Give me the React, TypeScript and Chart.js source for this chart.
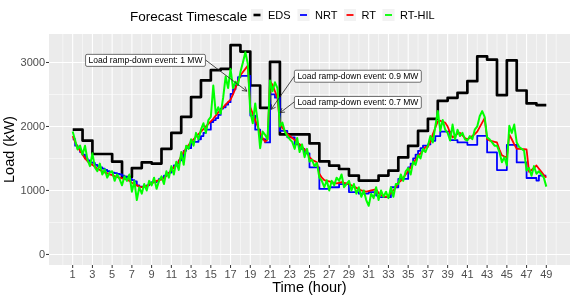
import React, { useEffect, useRef } from "react";
import { Chart, registerables } from "chart.js";

Chart.register(...registerables);

const FONT = "'Liberation Sans', Arial, Helvetica, sans-serif";

// EDS: hourly values, hour 1..49
const edsStart = 1;
const edsStep = 1;
const edsLoad = [
  1950, 1780, 1570, 1570, 1450, 1210, 1350, 1440, 1420, 1650,
  1900, 2150, 2460, 2720, 2880, 2900, 3270, 3170, 2640, 2290,
  3010, 1875, 1875, 1875, 1735, 1455, 1387, 1335, 1232, 1154,
  1154, 1232, 1309, 1516, 1697, 1930, 2120, 2400, 2448, 2526,
  2707, 3095, 3043, 2489, 3033, 2562, 2360, 2334, 2334,
];

// quarter-hour series, hour 1..49
const qStart = 1;
const qStep = 0.25;
const nrtLoad = [
  1800, 1700, 1650, 1600, 1560, 1500, 1470, 1440, 1430, 1400, 1380, 1360,
  1340, 1320, 1300, 1290, 1280, 1270, 1260, 1250, 1230, 1210, 1200, 1180,
  1160, 1140, 1080, 1060, 1060, 1070, 1080, 1100, 1130, 1130, 1150, 1180,
  1200, 1230, 1260, 1280, 1350, 1390, 1420, 1470, 1520, 1620, 1660, 1660,
  1760, 1760, 1760, 1800, 1850, 1900, 1950, 1950, 2070, 2100, 2130, 2180,
  2280, 2300, 2340, 2380, 2510, 2580, 2645, 2770, 2790, 2790, 2790, 2790,
  2170, 2170, 1950, 1950, 1800, 1800, 1750, 1750, 2500, 2500, 2450, 2450,
  1930, 1930, 1930, 1830, 1830, 1830, 1720, 1720, 1650, 1650, 1580, 1580,
  1360, 1360, 1360, 1360, 1024, 1024, 1024, 1024, 1050, 1050, 1050, 1050,
  1100, 1100, 1100, 1100, 975, 975, 975, 975, 950, 950, 950, 950,
  975, 975, 975, 920, 895, 895, 895, 895, 895, 1050, 1050, 1050,
  1180, 1180, 1180, 1180, 1360, 1420, 1500, 1560, 1620, 1660, 1700, 1700,
  1720, 1775, 1775, 1850, 1850, 1920, 1920, 1920, 1920, 1785, 1785, 1785,
  1750, 1750, 1750, 1750, 1713, 1713, 1713, 1713, 1853, 1853, 1853, 1853,
  1594, 1594, 1594, 1594, 1319, 1319, 1319, 1319, 1713, 1713, 1713, 1713,
  1438, 1438, 1438, 1438, 1195, 1195, 1195, 1195, 1154, 1231, 1231, 1231,
  1231,
];
const rtLoad = [
  1850, 1760, 1680, 1620, 1560, 1500, 1460, 1420, 1400, 1370, 1340, 1320,
  1300, 1280, 1270, 1250, 1240, 1225, 1210, 1200, 1190, 1180, 1170, 1150,
  1120, 1100, 1080, 1060, 1050, 1060, 1070, 1090, 1110, 1130, 1150, 1160,
  1170, 1190, 1230, 1270, 1320, 1360, 1400, 1450, 1540, 1600, 1660, 1710,
  1760, 1800, 1840, 1880, 1920, 1960, 2000, 2040, 2080, 2120, 2170, 2220,
  2260, 2300, 2340, 2380, 2420, 2500, 2600, 2700, 2800, 2850, 2900, 2950,
  2300, 2200, 2100, 2000, 1900, 1820, 1760, 1800, 2700, 2650, 2550, 2450,
  2050, 1980, 1930, 1880, 1850, 1820, 1790, 1750, 1720, 1680, 1640, 1600,
  1520, 1480, 1460, 1440, 1260, 1200, 1160, 1150, 1140, 1130, 1120, 1110,
  1120, 1130, 1120, 1110, 1100, 1080, 1060, 1040, 1020, 1000, 990, 980,
  990, 1000, 1010, 1020, 960, 930, 910, 900, 910, 960, 1000, 1050,
  1120, 1150, 1200, 1250, 1300, 1360, 1420, 1480, 1540, 1580, 1620, 1680,
  1680, 1760, 1880, 1980, 2080, 2090, 2070, 2060, 2000, 1900, 1830, 1850,
  1890, 1900, 1860, 1820, 1800, 1820, 1850, 1880, 1920, 1990, 2060, 2130,
  1800, 1780, 1770, 1760, 1750, 1640, 1550, 1530, 1520, 1870, 1800, 1720,
  1650, 1650, 1645, 1645, 1640, 1290, 1320, 1350, 1390, 1340, 1290, 1240,
  1200,
];
const rtHilLoad = [
  1920, 1780, 1640, 1700, 1560, 1700, 1480, 1380, 1580, 1360, 1300, 1420,
  1250, 1330, 1200, 1280, 1300, 1150, 1250, 1180, 1080, 1220, 1150, 1250,
  980, 1150, 850, 1050, 950, 1100, 1000, 1150, 1080, 1200, 1025, 1150,
  1220, 1100, 1300, 1200, 1380, 1250, 1450, 1320, 1600, 1400, 1700, 1650,
  1800, 1700, 1900, 1800, 1950, 2050, 1900, 2100, 2150, 2640, 2200, 2300,
  2200, 2450, 2780, 2600, 2900, 2600, 2700, 2650, 2850, 3000, 3160, 2980,
  2230, 2050, 2360, 2080, 1660, 1920, 1870, 1800, 2720, 2550, 2690, 2600,
  2000, 2060, 1920, 1850, 1800, 1760, 1650, 1820, 1600, 1720, 1520, 1650,
  1450, 1480, 1380, 1430, 1200, 1150, 1050, 1160, 1000, 1150, 1080, 1200,
  1150, 1250, 1050, 1100, 1150, 1000, 1100, 950, 1050, 900, 1000, 850,
  760, 950, 880, 1050, 850, 1000, 900, 980, 880, 1050, 900, 1100,
  1100, 1250, 1150, 1300, 1350, 1250, 1450, 1400, 1550, 1500, 1650, 1600,
  1700, 1850, 1750, 2000, 2240, 1930, 2100, 1950, 1900, 1780, 2030, 1800,
  1950, 1850, 1900, 1800, 1780, 1850, 1800, 1950, 2000, 2160, 2240, 2150,
  1830, 1800, 1750, 1700, 1700, 1600, 1440, 1520, 1390, 2010, 1900, 2030,
  1750, 1680, 1650, 1620, 1310, 1350, 1230, 1380, 1260, 1300, 1250, 1200,
  1060,
];

const seriesNames = ["EDS", "NRT", "RT", "RT-HIL"];
const seriesColors = ["#000000", "#0000FF", "#FF0000", "#00FF00"];

const xTicks = [1, 3, 5, 7, 9, 11, 13, 15, 17, 19, 21, 23, 25, 27, 29, 31, 33, 35, 37, 39, 41, 43, 45, 47, 49];
const xMinor = [0, 2, 4, 6, 8, 10, 12, 14, 16, 18, 20, 22, 24, 26, 28, 30, 32, 34, 36, 38, 40, 42, 44, 46, 48, 50];
const yTicks = [0, 1000, 2000, 3000];
const yMinor = [500, 1500, 2500];

const annotationTexts = [
  "Load ramp-down event: 1 MW",
  "Load ramp-down event: 0.9 MW",
  "Load ramp-down event: 0.7 MW",
];
// label centers and arrow segments, in data units (hour, kW)
const labelX = [8.38, 29.9, 29.9];
const labelY = [3033, 2785, 2375];
const arrowFromX = [14.42, 23.47, 23.55];
const arrowFromY = [3044, 2785, 2395];
const arrowToX = [18.65, 21.11, 22.02];
const arrowToY = [2552, 2267, 2215];

const toPoints = (vals: number[], start: number, step: number) =>
  vals.map((v, i) => ({ x: start + i * step, y: v }));

const themePlugin = {
  id: "ggTheme",
  beforeDatasetsDraw(chart: any) {
    const { ctx, chartArea: a, scales } = chart;
    const x = scales.x;
    const y = scales.y;
    ctx.save();
    ctx.fillStyle = "#EBEBEB";
    ctx.fillRect(a.left, a.top, a.right - a.left, a.bottom - a.top);
    ctx.strokeStyle = "#FFFFFF";
    ctx.lineWidth = 0.55;
    ctx.beginPath();
    xMinor.forEach((v) => {
      const px = x.getPixelForValue(v);
      ctx.moveTo(px, a.top);
      ctx.lineTo(px, a.bottom);
    });
    yMinor.forEach((v) => {
      const py = y.getPixelForValue(v);
      ctx.moveTo(a.left, py);
      ctx.lineTo(a.right, py);
    });
    ctx.stroke();
    ctx.lineWidth = 1.1;
    ctx.beginPath();
    xTicks.forEach((v) => {
      const px = x.getPixelForValue(v);
      ctx.moveTo(px, a.top);
      ctx.lineTo(px, a.bottom);
    });
    yTicks.forEach((v) => {
      const py = y.getPixelForValue(v);
      ctx.moveTo(a.left, py);
      ctx.lineTo(a.right, py);
    });
    ctx.stroke();
    ctx.restore();
  },
  afterDraw(chart: any) {
    const { ctx, chartArea: a, scales } = chart;
    const x = scales.x;
    const y = scales.y;
    ctx.save();
    // tick marks
    ctx.strokeStyle = "#333333";
    ctx.lineWidth = 1;
    ctx.beginPath();
    xTicks.forEach((v) => {
      const px = x.getPixelForValue(v);
      ctx.moveTo(px, a.bottom);
      ctx.lineTo(px, a.bottom + 3);
    });
    yTicks.forEach((v) => {
      const py = y.getPixelForValue(v);
      ctx.moveTo(a.left - 3, py);
      ctx.lineTo(a.left, py);
    });
    ctx.stroke();
    // tick labels
    ctx.fillStyle = "#4D4D4D";
    ctx.font = `11px ${FONT}`;
    ctx.textBaseline = "alphabetic";
    ctx.textAlign = "center";
    xTicks.forEach((v) => {
      ctx.fillText(String(v), x.getPixelForValue(v), a.bottom + 13);
    });
    ctx.textAlign = "right";
    yTicks.forEach((v) => {
      ctx.fillText(String(v), a.left - 4, y.getPixelForValue(v) + 4);
    });
    // axis titles
    ctx.fillStyle = "#000000";
    ctx.font = `14.5px ${FONT}`;
    ctx.textAlign = "center";
    ctx.fillText("Time (hour)", (a.left + a.right) / 2, 292);
    ctx.save();
    ctx.translate(14, (a.top + a.bottom) / 2);
    ctx.rotate(-Math.PI / 2);
    ctx.fillText("Load (kW)", 0, 0);
    ctx.restore();
    // legend
    ctx.font = `13.5px ${FONT}`;
    ctx.textAlign = "left";
    ctx.fillText("Forecast Timescale", 130, 20.5);
    const keyX = [251, 297.5, 344, 382.5];
    const labX = [268, 315, 361.5, 400];
    const keyW = [2.6, 1.8, 1.8, 1.8];
    seriesNames.forEach((name, i) => {
      ctx.fillStyle = "#F2F2F2";
      ctx.fillRect(keyX[i], 9, 12, 12);
      ctx.strokeStyle = seriesColors[i];
      ctx.lineWidth = keyW[i];
      ctx.beginPath();
      ctx.moveTo(keyX[i] + 2.5, 15);
      ctx.lineTo(keyX[i] + 9.5, 15);
      ctx.stroke();
      ctx.fillStyle = "#000000";
      ctx.font = `11px ${FONT}`;
      ctx.fillText(name, labX[i], 18.8);
    });
    // annotations
    annotationTexts.forEach((text, i) => {
      const fx = x.getPixelForValue(arrowFromX[i]);
      const fy = y.getPixelForValue(arrowFromY[i]);
      const tx = x.getPixelForValue(arrowToX[i]);
      const ty = y.getPixelForValue(arrowToY[i]);
      ctx.strokeStyle = "#222222";
      ctx.lineWidth = 0.8;
      ctx.beginPath();
      ctx.moveTo(fx, fy);
      ctx.lineTo(tx, ty);
      const ang = Math.atan2(ty - fy, tx - fx);
      const hl = 5;
      ctx.moveTo(tx - hl * Math.cos(ang - Math.PI / 6), ty - hl * Math.sin(ang - Math.PI / 6));
      ctx.lineTo(tx, ty);
      ctx.lineTo(tx - hl * Math.cos(ang + Math.PI / 6), ty - hl * Math.sin(ang + Math.PI / 6));
      ctx.stroke();

      ctx.font = `8.5px ${FONT}`;
      const w = ctx.measureText(text).width + 6;
      const h = 12;
      const cx = x.getPixelForValue(labelX[i]);
      const cy = y.getPixelForValue(labelY[i]);
      ctx.fillStyle = "#FFFFFF";
      ctx.strokeStyle = "#333333";
      ctx.lineWidth = 0.7;
      ctx.beginPath();
      ctx.roundRect(cx - w / 2, cy - h / 2, w, h, 1.5);
      ctx.fill();
      ctx.stroke();
      ctx.fillStyle = "#000000";
      ctx.textAlign = "center";
      ctx.textBaseline = "middle";
      ctx.fillText(text, cx, cy + 0.5);
      ctx.textBaseline = "alphabetic";
      ctx.textAlign = "left";
    });
    ctx.restore();
  },
};

export default function App() {
  const canvasRef = useRef<HTMLCanvasElement | null>(null);

  useEffect(() => {
    if (!canvasRef.current) return;
    const chart = new Chart(canvasRef.current, {
      type: "line",
      data: {
        datasets: [
          {
            label: seriesNames[0],
            data: toPoints(edsLoad, edsStart, edsStep),
            borderColor: seriesColors[0],
            borderWidth: 2.7,
            stepped: true,
            pointRadius: 0,
            order: 4,
          },
          {
            label: seriesNames[1],
            data: toPoints(nrtLoad, qStart, qStep),
            borderColor: seriesColors[1],
            borderWidth: 1.8,
            stepped: true,
            pointRadius: 0,
            order: 3,
          },
          {
            label: seriesNames[2],
            data: toPoints(rtLoad, qStart, qStep),
            borderColor: seriesColors[2],
            borderWidth: 1.8,
            pointRadius: 0,
            order: 2,
          },
          {
            label: seriesNames[3],
            data: toPoints(rtHilLoad, qStart, qStep),
            borderColor: seriesColors[3],
            borderWidth: 2,
            pointRadius: 0,
            order: 1,
          },
        ],
      },
      options: {
        animation: false,
        responsive: false,
        devicePixelRatio: 1,
        layout: { padding: { left: 49, right: 4, top: 34, bottom: 34 } },
        plugins: { legend: { display: false }, tooltip: { enabled: false } },
        elements: { line: { tension: 0, borderJoinStyle: "round", borderCapStyle: "butt" } },
        scales: {
          x: { type: "linear", min: -1.4, max: 51.4, display: false },
          y: { type: "linear", min: -165, max: 3445, display: false },
        },
      },
      plugins: [themePlugin],
    });
    return () => chart.destroy();
  }, []);

  return (
    <div style={{ position: "absolute", left: 0, top: 0, width: 574, height: 299, background: "#FFFFFF" }}>
      <canvas ref={canvasRef} width={574} height={299} style={{ width: 574, height: 299, display: "block" }} />
    </div>
  );
}
